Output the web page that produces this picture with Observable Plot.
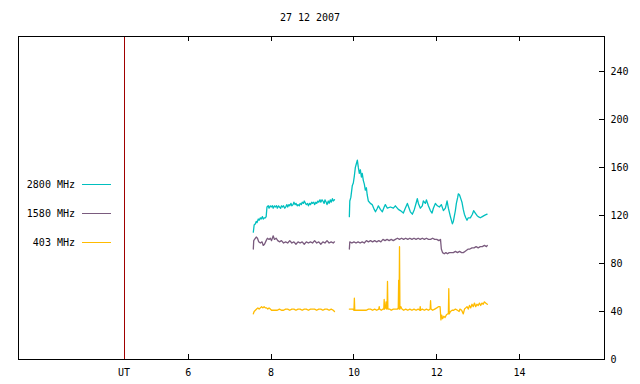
<!DOCTYPE html>
<html>
<head>
<meta charset="utf-8">
<script src="https://cdn.jsdelivr.net/npm/d3@7"></script>
<script src="https://cdn.jsdelivr.net/npm/@observablehq/plot@0.6"></script>
<style>
  html, body { margin: 0; padding: 0; background: #fff; }
  #wrap { position: relative; width: 640px; height: 384px; font-family: "DejaVu Sans Mono", monospace; font-size: 10px; }
  #title { position: absolute; top: 12px; left: 0; width: 620px; text-align: center; color: #000; }
  #legend { position: absolute; left: 0; top: 0; }
</style>
</head>
<body>
<div id="wrap"><div id="title"></div></div>
<script>
const titleText = "27 12 2007";
const utPos = 4.45;
const xTicks = [4.45, 6, 8, 10, 12, 14];
const xTickMarks = [6, 8, 10, 12, 14];
const yTicks = [0, 40, 80, 120, 160, 200, 240];
const seriesNames = ["2800 MHz", "1580 MHz", "403 MHz"];
const seriesColors = ["#00bfbf", "#7a5b7e", "#ffbb00"];

// 2800 MHz (null = data gap)
const t2800 = [7.57,7.59,7.62,7.64,7.66,7.69,7.71,7.74,7.76,7.79,7.81,7.84,7.86,7.88,7.90,7.93,7.95,7.98,8.00,8.03,8.05,8.08,8.10,8.13,8.15,8.18,8.20,8.23,8.25,8.28,8.30,8.33,8.35,8.38,8.40,8.43,8.45,8.48,8.50,8.53,8.55,8.58,8.60,8.63,8.65,8.68,8.70,8.73,8.75,8.78,8.80,8.83,8.85,8.88,8.90,8.93,8.95,8.98,9.00,9.03,9.05,9.08,9.10,9.13,9.15,9.18,9.20,9.23,9.25,9.28,9.30,9.33,9.35,9.38,9.40,9.43,9.45,9.48,9.50,9.53,
  9.70,
  9.889,9.90,9.925,9.961,9.985,10.01,10.034,10.058,10.082,10.106,10.13,10.155,10.18,10.20,10.227,10.251,10.275,10.30,10.32,10.348,10.396,10.44,10.49,10.52,10.565,10.59,10.638,10.686,10.73,10.758,10.807,10.88,10.952,11.0,11.072,11.12,11.193,11.24,11.29,11.31,11.362,11.41,11.459,11.507,11.53,11.556,11.604,11.65,11.676,11.725,11.749,11.797,11.845,11.886,11.918,11.966,12.014,12.063,12.111,12.16,12.208,12.249,12.28,12.329,12.377,12.40,12.449,12.473,12.505,12.52,12.55,12.58,12.608,12.64,12.667,12.70,12.73,12.76,12.81,12.86,12.89,12.93,12.97,13.00,13.05,13.10,13.15,13.215];
const v2800 = [106,112,113,115,114,117,116,118,117,119,117,118,118,119,127,128,126,128,127,128,126,128,127,128,126,128,127,126,128,127,128,126,127,129,127,129,128,130,128,129,131,129,130,128,129,128,130,129,131,130,132,130,129,130,128,130,129,131,130,131,129,131,130,132,131,133,131,133,132,130,133,131,129,132,130,133,131,134,132,133,
  null,
  119,132,135,145,147,153,160,163,166,160,155,158,152,155,149,146,141,143,137,132,130,129,125,123,126,128,125,123,127,129,126,127,126,128,125,124,122,126,130,128,123,121,125,131,134,130,126,128,132,130,133,128,124,122,126,130,128,127,129,124,126,132,126,119,113,115,124,130,135,138,137,134,131,125,121,118,116,118,118,121,124,122,120,119,118,119,120,121];

// 1580 MHz
const t1580 = [7.57,7.58,7.60,7.64,7.67,7.70,7.74,7.78,7.81,7.84,7.88,7.91,7.95,7.98,8.01,8.05,8.08,8.12,8.16,8.20,8.25,8.30,8.35,8.40,8.45,8.50,8.55,8.60,8.65,8.70,8.75,8.80,8.85,8.90,8.95,9.00,9.05,9.10,9.15,9.20,9.25,9.30,9.35,9.40,9.45,9.50,9.53,
  9.70,
  9.889,9.90,9.95,10.0,10.05,10.1,10.15,10.2,10.25,10.3,10.35,10.4,10.45,10.5,10.55,10.6,10.65,10.7,10.75,10.8,10.85,10.9,10.95,11.0,11.05,11.1,11.15,11.2,11.25,11.3,11.35,11.4,11.45,11.5,11.55,11.6,11.65,11.7,11.75,11.8,11.85,11.9,11.95,12.0,12.05,12.09,12.11,12.14,12.18,12.22,12.26,12.30,12.35,12.40,12.45,12.50,12.55,12.60,12.64,12.68,12.72,12.76,12.80,12.85,12.90,12.95,13.00,13.05,13.10,13.15,13.2,13.22];
const v1580 = [92,99,100,102,101,98,97,98,95,96,99,101,100,101,99,103,100,101,99,98,99,97,98,97,99,97,98,96,98,97,98,96,98,97,98,97,99,97,98,96,98,97,99,97,98,97,98,
  null,
  92,98,97,98,97,98,97,98,97,99,98,99,98,99,98,99,98,100,99,100,99,100,99,100,101,100,101,100,101,100,101,100,101,100,101,100,101,100,101,100,100,101,100,100,99,100,92,89,88,89,88,89,89,89,90,89,90,89,89,90,91,92,92,93,93,94,93,94,94,95,94,95,94];

// 403 MHz
const t403 = [7.57,7.59,7.62,7.65,7.68,7.71,7.74,7.77,7.80,7.83,7.86,7.89,7.92,7.95,7.98,8.01,8.05,8.10,8.15,8.20,8.25,8.30,8.35,8.40,8.45,8.50,8.55,8.60,8.65,8.70,8.75,8.80,8.85,8.90,8.95,9.00,9.05,9.10,9.15,9.20,9.25,9.30,9.35,9.40,9.45,9.50,9.53,
  9.70,
  9.889,9.93,9.97,10.00,10.01,10.02,10.06,10.10,10.15,10.20,10.25,10.30,10.35,10.40,10.45,10.50,10.55,10.60,10.61,10.62,10.66,10.70,10.72,10.73,10.74,10.76,10.775,10.79,10.80,10.81,10.82,10.86,10.90,10.95,11.00,11.05,11.07,11.08,11.09,11.10,11.11,11.13,11.16,11.20,11.25,11.30,11.35,11.40,11.45,11.50,11.55,11.59,11.60,11.61,11.65,11.70,11.75,11.80,11.84,11.85,11.86,11.90,11.95,12.00,12.04,12.08,12.10,12.12,12.14,12.17,12.20,12.23,12.26,12.28,12.29,12.30,12.33,12.37,12.41,12.45,12.50,12.54,12.56,12.60,12.64,12.67,12.70,12.73,12.76,12.79,12.82,12.85,12.88,12.91,12.94,12.97,13.00,13.03,13.06,13.09,13.12,13.15,13.18,13.22];
const v403 = [38,40,41,42,43,42,43,44,43,44,43,43,42,43,42,41,41,41,41,42,41,41,42,42,41,42,42,41,42,42,41,42,42,41,42,42,42,41,42,42,41,42,42,41,42,41,40,
  null,
  42,42,42,41,51,41,41,41,41,41,41,41,42,42,41,42,41,42,44,42,41,42,42,50,42,43,48,42,43,65,42,42,41,42,42,42,43,66,42,94,42,44,42,41,42,41,42,41,42,41,42,41,44,41,42,41,42,41,42,49,42,41,42,43,44,44,33,37,34,36,35,37,38,38,59,38,40,41,41,42,41,40,42,41,38,42,43,44,42,45,43,46,44,47,44,46,45,47,45,47,46,48,47,46];

const times = [t2800, t1580, t403];
const values = [v2800, v1580, v403];
const data = seriesNames.flatMap((name, i) => times[i].map((t, j) => ({series: name, t, v: values[i][j]})));

const font = "DejaVu Sans Mono";
const chart = Plot.plot({
  width: 640,
  height: 384,
  marginLeft: 18,
  marginRight: 36,
  marginTop: 36,
  marginBottom: 25,
  style: {fontFamily: font, fontSize: "10px", color: "#000", background: "#fff"},
  x: {domain: [1.9, 16.05]},
  y: {domain: [0, 269]},
  color: {domain: seriesNames, range: seriesColors},
  marks: [
    Plot.ruleX([utPos], {stroke: "#a00000", strokeWidth: 1, shapeRendering: "crispEdges"}),
    Plot.line(data, {x: "t", y: "v", z: "series", stroke: "series", strokeWidth: 1.3, curve: "linear"}),
    Plot.tickX(xTickMarks, {x: d => d, insetTop: 318, stroke: "#000", shapeRendering: "crispEdges"}),
    Plot.tickX(xTickMarks, {x: d => d, insetBottom: 318, stroke: "#000", shapeRendering: "crispEdges"}),
    Plot.tickY(yTicks.slice(1), {y: d => d, insetLeft: 581, stroke: "#000", shapeRendering: "crispEdges"}),
    Plot.axisX({ticks: xTicks, tickFormat: d => d === utPos ? "UT" : String(d), tickSize: 0, tickPadding: 9, label: null, fontSize: 10}),
    Plot.axisY({anchor: "right", ticks: yTicks, tickSize: 0, tickPadding: 6, label: null, fontSize: 10}),
    Plot.frame({stroke: "#000", strokeWidth: 1, shapeRendering: "crispEdges"})
  ]
});

const wrap = document.getElementById("wrap");
wrap.insertBefore(chart, wrap.firstChild);
document.getElementById("title").textContent = titleText;

// Legend overlay
const legendY = [184, 213, 242];
const svgNS = "http://www.w3.org/2000/svg";
const leg = document.createElementNS(svgNS, "svg");
leg.setAttribute("id", "legend");
leg.setAttribute("width", 130);
leg.setAttribute("height", 384);
seriesNames.forEach((name, i) => {
  const tx = document.createElementNS(svgNS, "text");
  tx.setAttribute("x", 75);
  tx.setAttribute("y", legendY[i]);
  tx.setAttribute("dy", "0.35em");
  tx.setAttribute("text-anchor", "end");
  tx.setAttribute("font-family", font);
  tx.setAttribute("font-size", "10px");
  tx.textContent = name;
  leg.appendChild(tx);
  const ln = document.createElementNS(svgNS, "line");
  ln.setAttribute("x1", 82); ln.setAttribute("x2", 111);
  ln.setAttribute("y1", legendY[i] + 0.5); ln.setAttribute("y2", legendY[i] + 0.5);
  ln.setAttribute("stroke", seriesColors[i]);
  ln.setAttribute("stroke-width", 1);
  leg.appendChild(ln);
});
wrap.appendChild(leg);
</script>
</body>
</html>
